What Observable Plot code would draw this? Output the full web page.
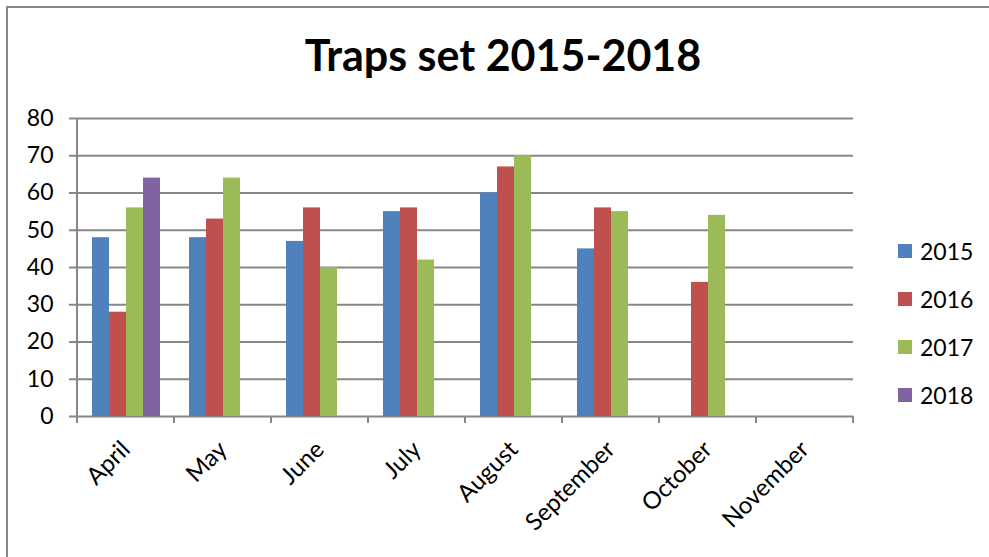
<!DOCTYPE html>
<html><head><meta charset="utf-8">
<script src="https://cdn.jsdelivr.net/npm/d3@7"></script>
<script src="https://cdn.jsdelivr.net/npm/@observablehq/plot@0.6"></script>
<style>
body{margin:0;background:#fff;font-family:Lato,sans-serif}
#wrap{position:relative;width:989px;height:557px;overflow:hidden;background:#fff}
#border{position:absolute;left:6px;top:6px;width:1100px;height:700px;border:2px solid #878787;box-sizing:border-box}
#title{position:absolute;left:0;width:1006px;top:33px;text-align:center;font-weight:bold;font-size:43px;line-height:1;color:#000}
#chart{position:absolute;left:0;top:100px}
#legend{position:absolute;left:898px;top:227px;font-size:23px;line-height:48px;color:#000}
#legend div{display:flex;align-items:center;height:48px}
#legend span.sw{display:inline-block;width:14px;height:14px;margin-right:8px}
</style></head>
<body>
<div id="wrap">
  <div id="border"></div>
  <div id="title">Traps set 2015-2018</div>
  <div id="chart"></div>
  <div id="legend"></div>
</div>
<script>
const months = ["April","May","June","July","August","September","October","November"];
const years = ["2015","2016","2017","2018"];
const traps2015 = [48,48,47,55,60,45,null,null];
const traps2016 = [28,53,56,56,67,56,36,null];
const traps2017 = [56,64,40,42,70,55,54,null];
const traps2018 = [64,null,null,null,null,null,null,null];
const yTicks = [0,10,20,30,40,50,60,70,80];
const colors = ["#4F81BD","#C0504D","#9BBB59","#8064A2"];

const series = [traps2015, traps2016, traps2017, traps2018];
const rows = [];
months.forEach((m, i) => series.forEach((s, j) => {
  if (s[i] != null) rows.push({month: m, year: years[j], value: s[i]});
}));
const gridRows = months.flatMap(m => yTicks.map(t => ({month: m, tick: t})));

const gray = "#878787";

const boundaryTicks = Plot.frame({
  facet: "super",
  render(index, scales, values, dims) {
    const fx = scales.fx;
    const g = d3.create("svg:g").attr("stroke", gray).attr("stroke-width", 2);
    const bottom = dims.height - dims.marginBottom;
    const top = dims.marginTop;
    const step = fx.bandwidth();
    const edges = months.map(m => fx(m)).concat([fx(months[months.length - 1]) + step]);
    g.append("line").attr("x1", edges[0]).attr("x2", edges[0]).attr("y1", top).attr("y2", bottom);
    edges.forEach(e => g.append("line").attr("x1", e).attr("x2", e).attr("y1", bottom).attr("y2", bottom + 7));
    return g.node();
  }
});

const chart = Plot.plot({
  width: 989, height: 457,
  marginTop: 18, marginBottom: 141, marginLeft: 75, marginRight: 135,
  style: {fontFamily: "Lato, sans-serif", fontSize: "22px", color: "#000", background: "transparent"},
  fx: {domain: months, paddingInner: 0, paddingOuter: 0, label: null},
  x: {domain: years, paddingInner: 0, paddingOuter: 0.75, axis: null},
  y: {domain: [0, 80], label: null},
  color: {domain: years, range: colors},
  marks: [
    Plot.ruleY(gridRows, {fx: "month", y: "tick", stroke: gray, strokeWidth: 2}),
    Plot.axisY(yTicks, {tickSize: 8, tickPadding: 16, stroke: gray, strokeWidth: 2, fontSize: 23, label: null}),
    Plot.barY(rows, {fx: "month", x: "year", y: "value", fill: "year"}),
    Plot.axisFx({anchor: "bottom", tickSize: 0, tickPadding: 29, tickRotate: -45, label: null, fontSize: 24}),
    boundaryTicks
  ]
});
document.getElementById("chart").appendChild(chart);

const legend = d3.select("#legend");
years.forEach((y, i) => {
  const row = legend.append("div");
  row.append("span").attr("class", "sw").style("background", colors[i]);
  row.append("span").text(y);
});
</script>
</body></html>
